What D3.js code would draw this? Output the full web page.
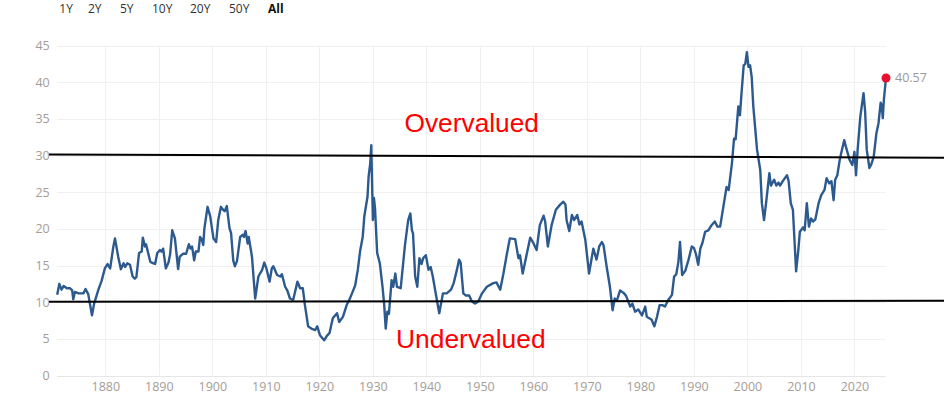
<!DOCTYPE html>
<html>
<head>
<meta charset="utf-8">
<script src="https://cdn.jsdelivr.net/npm/d3@7"></script>
<style>
  html, body { margin: 0; padding: 0; background: #fff; }
  svg { display: block; }
</style>
</head>
<body>
<svg id="chart" width="944" height="398"></svg>
<script>
// ---- data (Shiller CAPE) ----
const years = [
  1871.0,1871.4,1871.8,1872.2,1872.8,1873.4,1873.8,1874.0,1874.3,1875.0,1875.9,1876.3,1876.8,1877.5,1877.9,
  1878.7,1879.3,1879.9,1880.4,1880.9,1881.5,1881.8,1882.4,1882.9,1883.4,1883.7,1884.1,1884.6,1885.1,1885.5,
  1885.8,1886.3,1886.8,1887.0,1887.4,1887.6,1887.8,1888.4,1889.0,1889.3,1889.7,1890.2,1890.5,1890.8,1891.3,
  1891.8,1892.1,1892.5,1893.0,1893.6,1893.9,1894.5,1895.1,1895.6,1895.9,1896.2,1896.6,1896.9,1897.4,1897.7,
  1898.0,1898.3,1898.5,1899.1,1899.6,1900.2,1900.7,1901.1,1901.6,1902.0,1902.3,1902.7,1903.2,1903.5,1903.9,
  1904.2,1904.6,1905.2,1905.7,1905.9,1906.2,1906.6,1906.8,1907.4,1908.0,1908.6,1909.3,1909.7,1910.1,1910.7,
  1911.1,1911.4,1912.1,1912.7,1913.0,1913.6,1914.0,1914.5,1915.1,1915.9,1916.4,1916.9,1917.3,1917.9,1918.5,
  1919.2,1919.6,1920.1,1920.9,1921.4,1921.9,1922.5,1923.3,1923.7,1924.4,1925.1,1925.7,1926.1,1926.7,1927.2,
  1927.6,1928.1,1928.4,1929.0,1929.2,1929.5,1929.7,1930.0,1930.2,1930.4,1930.8,1931.3,1931.8,1932.1,1932.4,
  1932.7,1933.0,1933.5,1933.8,1934.2,1934.5,1935.2,1936.0,1936.6,1937.0,1937.3,1937.5,1937.9,1938.3,1938.7,
  1939.1,1939.4,1939.9,1940.4,1940.8,1941.2,1941.6,1942.4,1943.1,1943.8,1944.6,1945.1,1945.7,1946.1,1946.4,
  1946.9,1947.4,1948.0,1948.5,1949.1,1949.7,1950.4,1951.3,1952.5,1953.1,1953.8,1954.4,1955.0,1955.6,1956.6,
  1957.2,1957.5,1958.0,1958.8,1959.4,1959.9,1960.6,1961.2,1961.9,1962.2,1962.7,1963.4,1964.2,1965.0,1965.6,
  1966.0,1966.2,1966.7,1967.2,1967.6,1968.2,1968.6,1969.0,1969.7,1970.4,1971.2,1971.8,1972.3,1972.8,1973.1,
  1973.7,1974.3,1974.8,1975.2,1975.6,1976.2,1976.8,1977.3,1978.1,1978.5,1979.0,1979.6,1980.3,1980.9,1981.2,
  1982.1,1982.6,1983.1,1983.6,1984.1,1984.6,1985.2,1985.9,1986.3,1986.7,1987.1,1987.4,1987.8,1988.4,1989.0,
  1989.6,1990.0,1990.4,1990.8,1991.2,1991.6,1992.1,1992.7,1993.3,1993.9,1994.4,1994.9,1995.5,1996.1,1996.5,
  1997.1,1997.5,1997.8,1998.3,1998.6,1998.9,1999.3,1999.6,1999.9,2000.2,2000.5,2000.8,2001.1,2001.8,2002.4,
  2002.7,2003.1,2003.5,2004.1,2004.4,2005.0,2005.4,2005.8,2006.1,2006.6,2007.4,2007.7,2008.1,2008.5,2009.1,
  2009.5,2009.8,2010.4,2010.7,2011.1,2011.5,2011.9,2012.3,2012.7,2013.3,2013.8,2014.4,2014.8,2015.3,2015.7,
  2016.1,2016.4,2016.8,2017.3,2017.8,2018.1,2018.4,2019.1,2019.6,2020.0,2020.3,2020.6,2021.1,2021.7,2022.0,
  2022.3,2022.8,2023.1,2023.6,2024.1,2024.5,2024.9,2025.1,2025.3,2025.5,2025.9
];
const cape = [
  11.0,12.5,11.7,12.2,11.9,11.9,11.6,10.4,11.4,11.2,11.2,11.8,11.1,8.2,9.8,
  11.7,12.9,14.6,15.2,14.6,17.6,18.7,16.2,14.5,15.3,14.8,15.3,15.1,13.5,13.2,
  13.4,16.7,16.9,18.8,17.6,17.9,17.3,15.5,15.3,15.2,16.7,17.1,16.9,17.3,14.6,
  15.4,16.5,19.8,18.7,14.5,16.2,16.6,16.6,17.9,17.3,17.6,15.7,16.9,16.9,18.9,
  18.6,17.8,20.0,23.0,21.7,18.7,18.2,21.2,23.0,22.6,22.4,23.1,20.1,19.4,15.7,
  14.9,15.6,18.9,19.2,18.9,19.7,18.0,18.9,16.2,10.5,13.5,14.4,15.4,14.6,12.8,
  14.6,14.9,13.7,13.5,13.8,12.1,11.6,10.5,10.3,12.8,11.9,11.9,9.6,6.7,6.4,
  6.2,6.7,5.5,4.8,5.4,5.8,7.8,8.5,7.3,8.0,9.6,10.5,11.2,12.3,14.5,
  16.9,18.9,21.7,24.4,27.1,28.9,31.4,21.2,24.2,22.8,16.7,15.3,12.1,9.8,6.4,
  8.7,8.4,13.0,12.1,13.9,12.1,11.9,17.8,21.2,22.1,19.8,19.4,13.5,12.1,16.0,
  15.2,16.0,16.4,14.4,14.8,13.5,11.8,8.5,11.2,11.2,11.7,12.6,14.4,15.8,15.4,
  11.2,10.9,10.9,10.1,9.8,10.1,11.2,12.1,12.6,12.7,11.7,13.9,16.4,18.7,18.6,
  16.0,16.4,13.9,16.7,18.8,18.2,17.1,20.5,21.8,21.0,17.6,20.5,22.6,23.3,23.7,
  23.3,21.2,19.7,21.9,21.2,21.9,20.6,21.0,18.5,13.9,17.3,15.8,17.6,18.2,17.8,
  14.8,12.1,8.9,10.5,10.2,11.6,11.3,10.9,9.4,9.8,8.7,9.0,8.2,9.4,8.0,
  7.6,6.7,8.0,9.6,9.6,9.4,10.3,11.0,13.5,13.8,15.5,18.2,13.7,14.3,15.8,
  17.6,17.4,16.5,15.1,17.3,18.1,19.6,19.8,20.5,21.0,20.3,20.3,23.0,25.7,25.3,
  28.9,32.3,32.2,36.7,35.5,38.5,42.3,42.5,44.1,42.1,42.3,40.7,36.7,30.8,28.0,
  23.5,21.2,23.6,27.6,25.9,26.7,25.9,26.3,25.9,26.5,27.3,26.5,23.5,22.6,14.2,
  17.0,19.6,20.2,19.8,23.5,20.3,21.4,21.0,21.3,23.5,24.6,25.3,26.9,26.2,26.5,
  23.9,26.7,27.3,29.6,31.2,32.1,31.2,29.4,28.7,30.5,27.3,30.8,35.3,38.5,36.0,
  30.8,28.3,28.7,29.8,33.0,34.4,37.2,36.8,35.1,37.6,40.57
];
const yTicks = [0, 5, 10, 15, 20, 25, 30, 35, 40, 45];
const xTicks = [1880, 1890, 1900, 1910, 1920, 1930, 1940, 1950, 1960, 1970, 1980, 1990, 2000, 2010, 2020];
const rangeButtons = ["1Y", "2Y", "5Y", "10Y", "20Y", "50Y", "All"];
const overLine = [30.14, 29.69];   // annotation line values (left, right)
const underLine = [10.06, 10.19];
const overLabel = "Overvalued";
const underLabel = "Undervalued";
const lastLabel = "40.57";

// ---- layout ----
const svg = d3.select("#chart");
const plotL = 57.2, plotR = 886, plotT = 45.5, plotB = 375.5;
const btnStart = [59.3, 88, 120, 152, 190, 229, 268];

const x = d3.scaleLinear().domain([1871.0, 2025.9]).range([plotL, plotR]);
const y = d3.scaleLinear().domain([0, 45]).range([plotB, plotT]);

const data = years.map((yr, i) => ({ yr, v: cape[i] }));

// gridlines
const gGrid = svg.append("g");
gGrid.selectAll("line.h").data(yTicks).join("line")
  .attr("x1", plotL).attr("x2", plotR)
  .attr("y1", d => Math.round(y(d)) + 0.5).attr("y2", d => Math.round(y(d)) + 0.5)
  .attr("stroke", d => d === 0 ? "#e6e6e6" : "#f0f0f0").attr("stroke-width", 1);
gGrid.selectAll("line.v").data(xTicks).join("line")
  .attr("x1", d => Math.round(x(d)) + 0.5).attr("x2", d => Math.round(x(d)) + 0.5)
  .attr("y1", plotT).attr("y2", plotB)
  .attr("stroke", "#f0f0f0").attr("stroke-width", 1);

// axes labels
const axisFont = "'Open Sans', 'DejaVu Sans', sans-serif";
const gY = svg.append("g")
  .attr("transform", `translate(${plotL - 7.5},0)`)
  .call(d3.axisLeft(y).tickValues(yTicks).tickSize(0).tickPadding(0));
gY.select(".domain").remove();
gY.selectAll("text").attr("font-family", axisFont).attr("font-size", 12.5)
  .attr("fill", "#a59d96");

const gX = svg.append("g")
  .attr("transform", `translate(0,${plotB + 7})`)
  .call(d3.axisBottom(x).tickValues(xTicks).tickFormat(d3.format("d")).tickSize(0).tickPadding(0));
gX.select(".domain").remove();
gX.selectAll("text").attr("font-family", axisFont).attr("font-size", 12.5)
  .attr("fill", "#a59d96").attr("dy", "0.71em");

// range selector buttons
svg.append("g").selectAll("text").data(rangeButtons).join("text")
  .attr("x", (d, i) => btnStart[i]).attr("y", 13)
  .attr("font-family", axisFont).attr("font-size", 12)
  .attr("font-weight", d => d === "All" ? 700 : 400)
  .attr("fill", d => d === "All" ? "#111" : "#333")
  .text(d => d);

// CAPE line
const line = d3.line().x(d => x(d.yr)).y(d => y(d.v)).curve(d3.curveLinear);
svg.append("path").datum(data)
  .attr("d", line)
  .attr("fill", "none").attr("stroke", "#2d5a8e").attr("stroke-width", 2.4)
  .attr("stroke-linejoin", "round");

// threshold lines
const lineStart = 49, lineEnd = 944;
[overLine, underLine].forEach(vals => {
  svg.append("line")
    .attr("x1", lineStart).attr("x2", lineEnd)
    .attr("y1", y(vals[0])).attr("y2", y(vals[1]))
    .attr("stroke", "#000").attr("stroke-width", 2);
});

// annotation texts
svg.append("text").attr("x", 404.5).attr("y", y(33.15))
  .attr("font-family", "'Liberation Sans', Arial, sans-serif").attr("font-size", 26.3)
  .attr("fill", "#ff0000").text(overLabel);
svg.append("text").attr("x", 396).attr("y", y(3.7))
  .attr("font-family", "'Liberation Sans', Arial, sans-serif").attr("font-size", 26.4)
  .attr("fill", "#ff0000").text(underLabel);

// last point marker
const last = data[data.length - 1];
svg.append("circle").attr("cx", x(last.yr)).attr("cy", y(last.v)).attr("r", 4.5)
  .attr("fill", "#e8102e");
svg.append("text").attr("x", x(last.yr) + 9).attr("y", y(last.v))
  .attr("dy", "0.35em")
  .attr("font-family", axisFont).attr("font-size", 12.5)
  .attr("fill", "#999").text(lastLabel);
</script>
</body>
</html>
